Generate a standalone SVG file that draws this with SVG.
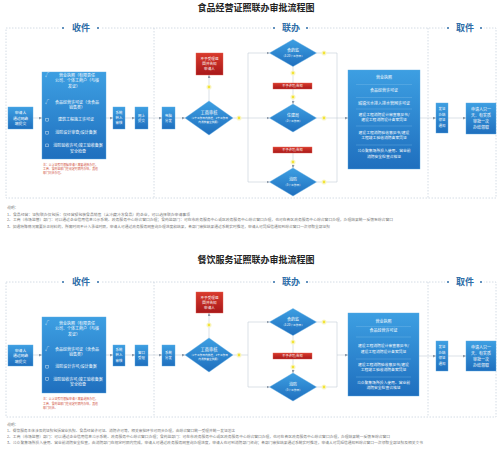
<svg xmlns="http://www.w3.org/2000/svg" width="500" height="453" viewBox="0 0 500 453">
<defs>
<linearGradient id="gb" x1="0" y1="0" x2="0" y2="1"><stop offset="0" stop-color="#3d9fe2"/><stop offset="1" stop-color="#1f6fbe"/></linearGradient>
<linearGradient id="gr" x1="0" y1="0" x2="0" y2="1"><stop offset="0" stop-color="#d93a2c"/><stop offset="1" stop-color="#a8181a"/></linearGradient>
<marker id="ar" markerUnits="userSpaceOnUse" markerWidth="3" markerHeight="3" refX="3" refY="1.5" orient="auto"><path d="M0,0 L3,1.5 L0,3 z" fill="#8a98a8"/></marker>
<style>
.fr{fill:none;stroke:#c9d3de;stroke-width:0.8;stroke-dasharray:1.5 1.5}
.bx{fill:url(#gb);stroke:#5aa8e0;stroke-width:0.4}
.rb{fill:url(#gr);stroke:#e06050;stroke-width:0.4}
.dm{fill:url(#gb);stroke:#5aa8e0;stroke-width:0.4}
.c{fill:none;stroke:#c3ccd6;stroke-width:0.6}
.ca{fill:none;stroke:#c3ccd6;stroke-width:0.6;marker-end:url(#ar)}
.yc{fill:#f2e437;stroke:#faf6cc;stroke-width:1.2}
.t{font-family:"Noto Sans CJK SC","Noto Sans",sans-serif;fill:#fff;text-anchor:middle}
.s{stroke:#fff;fill:none;stroke-width:0.4}
.sep{stroke:#8cc4ee;stroke-width:0.3}
.ti{font-family:"Noto Sans CJK SC",sans-serif;font-weight:bold;font-size:9px;fill:#222;text-anchor:middle}
.lb{font-family:"Noto Sans CJK SC",sans-serif;font-weight:bold;font-size:9px;fill:#2f6ea8;text-anchor:middle}
.dot{fill:#2f6ea8}
.nt{font-family:"Noto Sans CJK SC",sans-serif;font-size:3.8px;fill:#777}
.rn{font-family:"Noto Sans CJK SC",sans-serif;font-size:2.9px;fill:#d0503c}
</style>
</defs>
<rect width="500" height="453" fill="#fff"/>

<!-- ===== Diagram 1 ===== -->
<text class="ti" x="256" y="11">食品经营证照联办审批流程图</text>
<g id="frame1">
<rect class="fr" x="6" y="28" width="490" height="170"/>
<line class="fr" x1="154" y1="28" x2="154" y2="198"/>
<line class="fr" x1="428" y1="28" x2="428" y2="198"/>
<rect x="60" y="22" width="41" height="12" fill="#fff"/>
<circle class="dot" cx="63" cy="28" r="1"/><text class="lb" x="81" y="31.2">收件</text><circle class="dot" cx="98" cy="28" r="1"/>
<rect x="271" y="22" width="38" height="12" fill="#fff"/>
<circle class="dot" cx="274" cy="28" r="1"/><text class="lb" x="291" y="31.2">联办</text><circle class="dot" cx="307" cy="28" r="1"/>
<rect x="445" y="22" width="39" height="12" fill="#fff"/>
<circle class="dot" cx="448" cy="28" r="1"/><text class="lb" x="465" y="31.2">取件</text><circle class="dot" cx="481" cy="28" r="1"/>
</g>

<g id="connectors1">
<line class="ca" x1="33" y1="118" x2="42" y2="118"/>
<line class="ca" x1="106" y1="118" x2="113" y2="118"/>
<line class="ca" x1="125" y1="118" x2="135" y2="118"/>
<line class="ca" x1="148" y1="118" x2="162" y2="118"/>
<line class="ca" x1="175" y1="118" x2="185" y2="118"/>
<line class="ca" x1="209" y1="101" x2="209" y2="75"/>
<line class="c" x1="233" y1="118" x2="248" y2="118"/>
<line class="c" x1="248" y1="53" x2="248" y2="182"/>
<line class="ca" x1="248" y1="53" x2="269.5" y2="53"/>
<line class="ca" x1="248" y1="118" x2="269.5" y2="118"/>
<line class="ca" x1="248" y1="182" x2="269.5" y2="182"/>
<line class="c" x1="293" y1="66.5" x2="293" y2="83"/>
<line class="ca" x1="293" y1="89" x2="293" y2="104"/>
<line class="ca" x1="293" y1="153" x2="293" y2="168"/>
<line class="c" x1="316.5" y1="53" x2="337" y2="53"/>
<line class="c" x1="316.5" y1="118" x2="337" y2="118"/>
<line class="c" x1="316.5" y1="182" x2="337" y2="182"/>
<line class="c" x1="337" y1="53" x2="337" y2="182"/>
<line class="ca" x1="337" y1="118" x2="348" y2="118"/>
<line class="ca" x1="420" y1="118" x2="436" y2="118"/>
<line class="ca" x1="448" y1="118" x2="466" y2="118"/>
<circle class="yc" cx="209" cy="87" r="2"/>
<circle class="yc" cx="239" cy="118" r="2"/>
<circle class="yc" cx="293" cy="73" r="2"/>
<circle class="yc" cx="293" cy="97" r="2"/>
<circle class="yc" cx="293" cy="162" r="2"/>
<circle class="yc" cx="324" cy="53" r="2"/>
<circle class="yc" cx="324" cy="118" r="2"/>
<circle class="yc" cx="324" cy="182" r="2"/>
</g>

<g id="n1-apply">
<rect class="bx" x="8" y="107" width="25" height="22"/>
<text class="t" font-size="3.8" x="20.5" y="114">申请人</text>
<text class="t" font-size="3.8" x="20.5" y="119.5">通过网络</text>
<text class="t" font-size="3.8" x="20.5" y="125">端提交</text>
</g>
<g id="n1-list">
<rect class="bx" x="42" y="72" width="64" height="87"/>
<text class="t" font-size="4" x="47" y="76.5">√</text>
<text class="t" font-size="4" x="77" y="76.5">营业执照（有限责任</text>
<text class="t" font-size="4" x="77" y="82">公司、个体工商户（与核</text>
<text class="t" font-size="4" x="74" y="87.5">发证）</text>
<text class="t" font-size="4" x="47" y="103.5">√</text>
<text class="t" font-size="4" x="77" y="103.5">食品经营许可证（含食品</text>
<text class="t" font-size="4" x="77" y="109">销售类）</text>
<rect class="s" x="45.8" y="118.3" width="2.8" height="2.8"/>
<text class="t" font-size="4" x="76" y="121.4">建筑工程施工许可证</text>
<rect class="s" x="45.8" y="131.3" width="2.8" height="2.8"/>
<text class="t" font-size="4" x="76" y="134.4">消防设计审查/设计备案</text>
<rect class="s" x="45.8" y="144" width="2.8" height="2.8"/>
<text class="t" font-size="4" x="78" y="147">消防验收许可/竣工验收备案</text>
<text class="t" font-size="4" x="78" y="153">安全检查</text>
</g>
<g id="n1-note">
<text class="rn" x="43" y="166">注：以上证照可根据申请人需要选择办理，</text>
<text class="rn" x="43" y="170">工商、食药监部门在规定时限内办结，其他</text>
<text class="rn" x="43" y="174">部门同步办理。</text>
</g>
<g id="n1-sys">
<rect class="bx" x="113" y="107" width="12" height="22"/>
<text class="t" font-size="3.4" x="119" y="113.5">系统</text>
<text class="t" font-size="3.4" x="119" y="118.8">转入</text>
<text class="t" font-size="3.4" x="119" y="124">审核</text>
</g>
<g id="n1-win">
<rect class="bx" x="135" y="107" width="13" height="22"/>
<text class="t" font-size="3.4" x="141.5" y="116.5">网上</text>
<text class="t" font-size="3.4" x="141.5" y="122">提交</text>
</g>
<g id="n1-dist">
<rect class="bx" x="162" y="107" width="13" height="22"/>
<text class="t" font-size="3.4" x="168.5" y="116.5">电脑</text>
<text class="t" font-size="3.4" x="168.5" y="122">分发</text>
</g>
<g id="n1-reject">
<rect class="rb" x="196" y="53" width="27" height="22"/>
<text class="t" font-size="3.6" x="209.5" y="59.5">不予受理退</text>
<text class="t" font-size="3.6" x="209.5" y="64.8">回并告知</text>
<text class="t" font-size="3.6" x="209.5" y="70">申请人</text>
</g>
<g id="n1-aic">
<polygon class="dm" points="209,101 233,118 209,135 185,118"/>
<text class="t" font-size="4.2" x="209" y="113.5">工商审核</text>
<text class="t" font-size="2.7" x="209" y="118.5">（1个工作日内核准，2个工作日</text>
<text class="t" font-size="2.7" x="209" y="122.5">内发放营业执照）</text>
</g>
<g id="n1-fda">
<polygon class="dm" points="293,39.5 316.5,53 293,66.5 269.5,53"/>
<text class="t" font-size="4" x="293" y="52">食药监</text>
<text class="t" font-size="2.8" x="293" y="57">（3-20个工作日）</text>
</g>
<g id="n1-bar1">
<rect class="rb" x="273" y="83" width="39" height="6"/>
<text class="t" font-size="3.2" x="292.5" y="87.2">不予许可/告知</text>
</g>
<g id="n1-con">
<polygon class="dm" points="293,104 316.5,118 293,132 269.5,118"/>
<text class="t" font-size="4" x="293" y="117">住建局</text>
<text class="t" font-size="2.8" x="293" y="122">（3个工作日）</text>
</g>
<g id="n1-bar2">
<rect class="rb" x="273" y="147" width="39" height="6"/>
<text class="t" font-size="3.2" x="292.5" y="151.2">不予许可/告知</text>
</g>
<g id="n1-fire">
<polygon class="dm" points="293,168 316.5,182 293,196 269.5,182"/>
<text class="t" font-size="4" x="293" y="181">消防</text>
<text class="t" font-size="2.8" x="293" y="186">（5个工作日）</text>
</g>
<g id="n1-certs">
<rect class="bx" x="348" y="70" width="72" height="99"/>
<text class="t" font-size="4" x="384" y="78.5">营业执照</text>
<line class="sep" x1="356" y1="84.5" x2="412" y2="84.5"/>
<text class="t" font-size="4" x="384" y="92">食品经营许可证</text>
<line class="sep" x1="356" y1="97.5" x2="412" y2="97.5"/>
<text class="t" font-size="4" x="384" y="104.5">城镇污水排入排水管网许可证</text>
<line class="sep" x1="356" y1="109" x2="412" y2="109"/>
<text class="t" font-size="3.8" x="384" y="115.5">建设工程消防设计审查意见书/</text>
<text class="t" font-size="3.8" x="384" y="121">建设工程消防设计备案凭证</text>
<line class="sep" x1="356" y1="126" x2="412" y2="126"/>
<text class="t" font-size="3.8" x="384" y="133.5">建设工程消防验收意见书/建设</text>
<text class="t" font-size="3.8" x="384" y="139">工程竣工验收消防备案凭证</text>
<line class="sep" x1="356" y1="145" x2="412" y2="145"/>
<text class="t" font-size="3.8" x="384" y="152">公众聚集场所投入使用、营业前</text>
<text class="t" font-size="3.8" x="384" y="157.5">消防安全检查合格证</text>
</g>
<g id="n1-issue">
<rect class="bx" x="436" y="103" width="12" height="30"/>
<text class="t" font-size="3.4" x="442" y="110">发证</text>
<text class="t" font-size="3.4" x="442" y="115.5">办结</text>
<text class="t" font-size="3.4" x="442" y="121">领证</text>
<text class="t" font-size="3.4" x="442" y="126.5">通知</text>
</g>
<g id="n1-pick">
<rect class="bx" x="466" y="103" width="30" height="31"/>
<text class="t" font-size="4" x="481" y="110.5">申请人只一</text>
<text class="t" font-size="4" x="481" y="116.5">天、有实质</text>
<text class="t" font-size="4" x="481" y="122.5">审批一次</text>
<text class="t" font-size="4" x="481" y="128.5">办结领取</text>
</g>
<g id="notes1">
<text class="nt" x="7" y="209">说明：</text>
<text class="nt" x="7" y="215.5" textLength="183" lengthAdjust="spacingAndGlyphs">1、食品经营：证照联办仅包括：仅经营预包装食品销售（含冷藏冷冻食品）的企业，可以选择联办申请事项</text>
<text class="nt" x="7" y="221" textLength="386" lengthAdjust="spacingAndGlyphs">2、工商（市场监管）部门：可以通过企业信用信息公示系统、政务服务中心综合窗口办理；食药监部门：可在市政务服务中心或区政务服务中心综合窗口办理，也可在各区政务服务中心综合窗口办理，办理结果统一反馈至综合窗口</text>
<text class="nt" x="7" y="227.5" textLength="323" lengthAdjust="spacingAndGlyphs">3、如遇特殊情况需要补正材料的，所需时间不计入承诺时限，申请人可通过政务服务网查询办理进度和结果，各部门审批结果通过系统实时推送，申请人可凭短信通知到综合窗口一次领取全部证照</text>
</g>

<!-- ===== Diagram 2 ===== -->
<text class="ti" x="256" y="263">餐饮服务证照联办审批流程图</text>
<g id="frame2">
<rect class="fr" x="6" y="282" width="490" height="135"/>
<line class="fr" x1="154" y1="282" x2="154" y2="417"/>
<line class="fr" x1="428" y1="282" x2="428" y2="417"/>
<rect x="60" y="276" width="41" height="12" fill="#fff"/>
<circle class="dot" cx="63" cy="282" r="1"/><text class="lb" x="81" y="285.2">收件</text><circle class="dot" cx="98" cy="282" r="1"/>
<rect x="271" y="276" width="38" height="12" fill="#fff"/>
<circle class="dot" cx="274" cy="282" r="1"/><text class="lb" x="291" y="285.2">联办</text><circle class="dot" cx="307" cy="282" r="1"/>
<rect x="445" y="276" width="39" height="12" fill="#fff"/>
<circle class="dot" cx="448" cy="282" r="1"/><text class="lb" x="465" y="285.2">取件</text><circle class="dot" cx="481" cy="282" r="1"/>
</g>

<g id="connectors2">
<line class="ca" x1="33" y1="355" x2="42" y2="355"/>
<line class="ca" x1="106" y1="355" x2="113" y2="355"/>
<line class="ca" x1="125" y1="355" x2="135" y2="355"/>
<line class="ca" x1="148" y1="355" x2="162" y2="355"/>
<line class="ca" x1="175" y1="355" x2="185" y2="355"/>
<line class="ca" x1="209" y1="338" x2="209" y2="313"/>
<line class="c" x1="233" y1="355" x2="248" y2="355"/>
<line class="c" x1="248" y1="322" x2="248" y2="387"/>
<line class="ca" x1="248" y1="322" x2="269.5" y2="322"/>
<line class="ca" x1="248" y1="387" x2="269.5" y2="387"/>
<line class="c" x1="293" y1="335.5" x2="293" y2="353"/>
<line class="ca" x1="293" y1="359" x2="293" y2="373"/>
<line class="c" x1="316.5" y1="322" x2="337" y2="322"/>
<line class="c" x1="316.5" y1="387" x2="337" y2="387"/>
<line class="c" x1="337" y1="322" x2="337" y2="387"/>
<line class="ca" x1="337" y1="355" x2="348" y2="355"/>
<line class="ca" x1="419" y1="356" x2="436" y2="356"/>
<line class="ca" x1="448" y1="356" x2="466" y2="356"/>
<circle class="yc" cx="209" cy="325" r="2"/>
<circle class="yc" cx="239" cy="355" r="2"/>
<circle class="yc" cx="293" cy="342" r="2"/>
<circle class="yc" cx="293" cy="367" r="2"/>
<circle class="yc" cx="324" cy="322" r="2"/>
<circle class="yc" cx="324" cy="387" r="2"/>
</g>

<g id="n2-apply">
<rect class="bx" x="8" y="345" width="25" height="21"/>
<text class="t" font-size="3.8" x="20.5" y="351.5">申请人</text>
<text class="t" font-size="3.8" x="20.5" y="357">通过网络</text>
<text class="t" font-size="3.8" x="20.5" y="362.5">端提交</text>
</g>
<g id="n2-list">
<rect class="bx" x="42" y="317" width="64" height="76"/>
<text class="t" font-size="4" x="47" y="324.5">√</text>
<text class="t" font-size="4" x="77" y="324.5">营业执照（有限责任</text>
<text class="t" font-size="4" x="77" y="330">公司、个体工商户（与核</text>
<text class="t" font-size="4" x="74" y="335.5">发证）</text>
<text class="t" font-size="4" x="47" y="350.5">√</text>
<text class="t" font-size="4" x="77" y="350.5">食品经营许可证（含食品</text>
<text class="t" font-size="4" x="77" y="356">销售类）</text>
<rect class="s" x="45.8" y="365.3" width="2.8" height="2.8"/>
<text class="t" font-size="4" x="76" y="368.4">消防设计许可/设计备案</text>
<rect class="s" x="45.8" y="377.5" width="2.8" height="2.8"/>
<text class="t" font-size="4" x="78" y="380.5">消防验收许可/竣工验收备案</text>
<text class="t" font-size="4" x="78" y="386">安全检查</text>
</g>
<g id="n2-note">
<text class="rn" x="43" y="400">注：以上证照可根据申请人需要选择办理，</text>
<text class="rn" x="43" y="404.5">工商、食药监部门在规定时限内办结，其他</text>
<text class="rn" x="43" y="409">部门同步。</text>
</g>
<g id="n2-sys">
<rect class="bx" x="113" y="345" width="12" height="21"/>
<text class="t" font-size="3.4" x="119" y="351">系统</text>
<text class="t" font-size="3.4" x="119" y="356.3">转入</text>
<text class="t" font-size="3.4" x="119" y="361.5">审核</text>
</g>
<g id="n2-win">
<rect class="bx" x="135" y="345" width="13" height="21"/>
<text class="t" font-size="3.4" x="141.5" y="353.5">窗口</text>
<text class="t" font-size="3.4" x="141.5" y="359">受理</text>
</g>
<g id="n2-dist">
<rect class="bx" x="162" y="345" width="13" height="21"/>
<text class="t" font-size="3.4" x="168.5" y="353.5">系统</text>
<text class="t" font-size="3.4" x="168.5" y="359">分发</text>
</g>
<g id="n2-reject">
<rect class="rb" x="196" y="292" width="27" height="21"/>
<text class="t" font-size="3.6" x="209.5" y="298.5">不予受理退</text>
<text class="t" font-size="3.6" x="209.5" y="303.6">回并告知</text>
<text class="t" font-size="3.6" x="209.5" y="308.7">申请人</text>
</g>
<g id="n2-aic">
<polygon class="dm" points="209,338 233,355 209,372 185,355"/>
<text class="t" font-size="4.2" x="209" y="350.5">工商审核</text>
<text class="t" font-size="2.7" x="209" y="355.5">（1个工作日内核准，2个工作日</text>
<text class="t" font-size="2.7" x="209" y="359.5">内发放营业执照）</text>
</g>
<g id="n2-fda">
<polygon class="dm" points="293,308.5 316.5,322 293,335.5 269.5,322"/>
<text class="t" font-size="4" x="293" y="321">食药监</text>
<text class="t" font-size="2.8" x="293" y="326">（3-20个工作日）</text>
</g>
<g id="n2-bar">
<rect class="rb" x="273" y="353" width="39" height="6"/>
<text class="t" font-size="3.2" x="292.5" y="357.2">不予许可/告知</text>
</g>
<g id="n2-fire">
<polygon class="dm" points="293,373 316.5,387 293,401 269.5,387"/>
<text class="t" font-size="4" x="293" y="386">消防</text>
<text class="t" font-size="2.8" x="293" y="391">（5个工作日）</text>
</g>
<g id="n2-certs">
<rect class="bx" x="348" y="313" width="71" height="83"/>
<text class="t" font-size="4" x="383.5" y="322.5">营业执照</text>
<line class="sep" x1="356" y1="326.5" x2="411" y2="326.5"/>
<text class="t" font-size="4" x="383.5" y="332">食品经营许可证</text>
<line class="sep" x1="356" y1="337" x2="411" y2="337"/>
<text class="t" font-size="3.8" x="383.5" y="347">建设工程消防设计审查意见书/</text>
<text class="t" font-size="3.8" x="383.5" y="352.5">建设工程消防设计备案凭证</text>
<line class="sep" x1="356" y1="359" x2="411" y2="359"/>
<text class="t" font-size="3.8" x="383.5" y="365.5">建设工程消防验收意见书/建设</text>
<text class="t" font-size="3.8" x="383.5" y="371">工程竣工验收消防备案凭证</text>
<line class="sep" x1="356" y1="377" x2="411" y2="377"/>
<text class="t" font-size="3.8" x="383.5" y="383.5">公众聚集场所投入使用、营业前</text>
<text class="t" font-size="3.8" x="383.5" y="389">消防安全检查合格证</text>
</g>
<g id="n2-issue">
<rect class="bx" x="436" y="341" width="12" height="30"/>
<text class="t" font-size="3.4" x="442" y="348">发证</text>
<text class="t" font-size="3.4" x="442" y="353.5">办结</text>
<text class="t" font-size="3.4" x="442" y="359">领证</text>
<text class="t" font-size="3.4" x="442" y="364.5">通知</text>
</g>
<g id="n2-pick">
<rect class="bx" x="466" y="341" width="30" height="30"/>
<text class="t" font-size="4" x="481" y="348.5">申请人只一</text>
<text class="t" font-size="4" x="481" y="354.5">天、有实质</text>
<text class="t" font-size="4" x="481" y="360.5">审批一次</text>
<text class="t" font-size="4" x="481" y="366.5">办结领取</text>
</g>
<g id="notes2">
<text class="nt" x="7" y="426">说明：</text>
<text class="nt" x="7" y="432" textLength="228" lengthAdjust="spacingAndGlyphs">1、餐饮服务主体涉及的证照包括营业执照、食品经营许可证、消防许可等，相关审批环节可同步办理，由综合窗口统一受理并统一发证送达</text>
<text class="nt" x="7" y="438" textLength="383" lengthAdjust="spacingAndGlyphs">2、工商（市场监管）部门：可以通过企业信用信息公示系统、政务服务中心综合窗口办理；食药监部门：可在市政务服务中心或区政务服务中心综合窗口办理，也可在各区政务服务中心综合窗口办理，办理结果统一反馈至综合窗口</text>
<text class="nt" x="7" y="444" textLength="416" lengthAdjust="spacingAndGlyphs">3、公众聚集场所投入使用、营业前消防安全检查，由消防部门在规定时限内完成，申请人可通过政务服务网查询办理进度，申请人也可到消防部门咨询；各部门审批结果通过系统实时推送，申请人可凭短信通知到综合窗口一次领取全部证照及相关文书</text>
</g>
</svg>
